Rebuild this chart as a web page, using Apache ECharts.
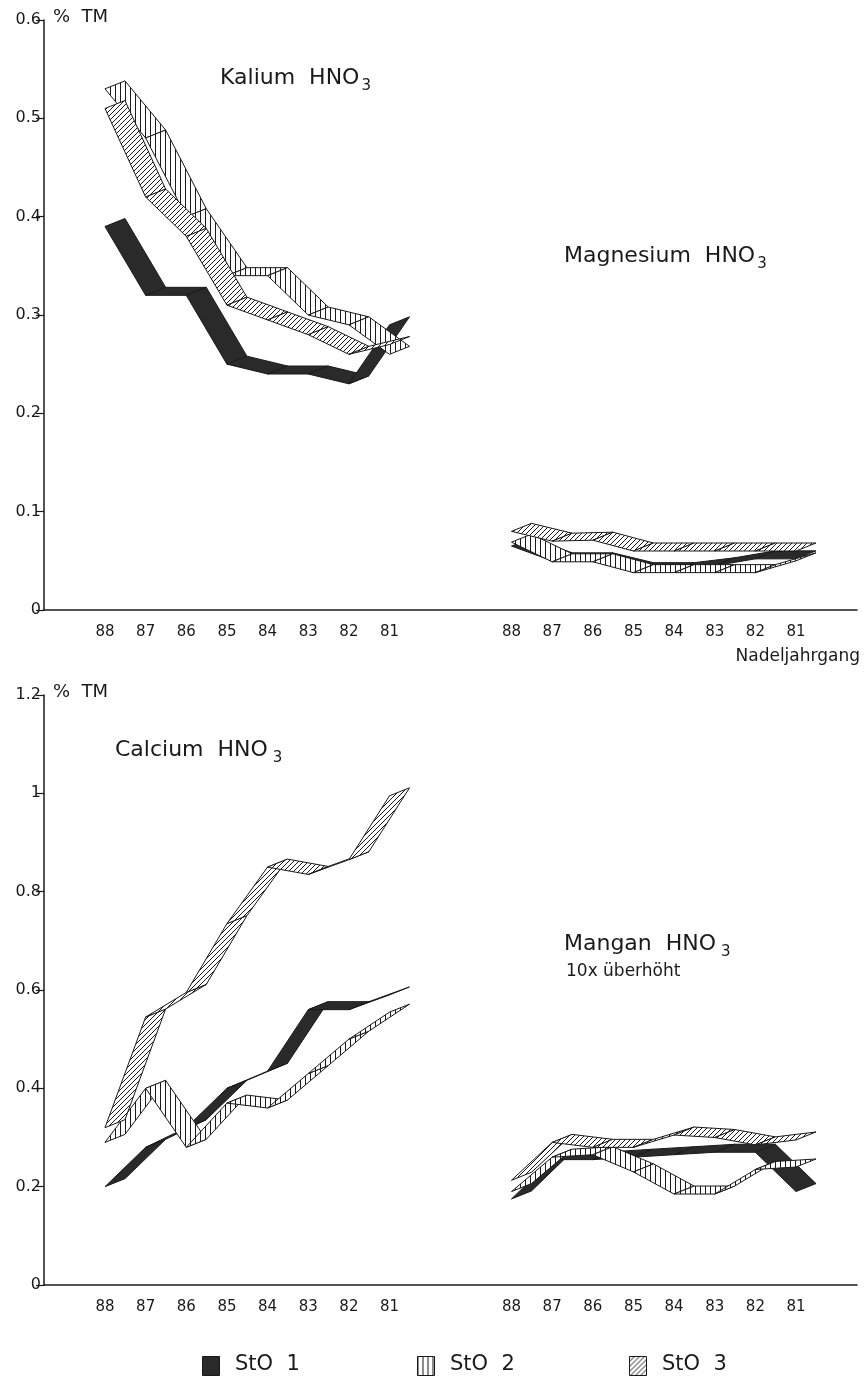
<!DOCTYPE html>
<html><head><meta charset="utf-8">
<script src="https://cdn.jsdelivr.net/npm/echarts@6/dist/echarts.min.js"></script>
<style>html,body{margin:0;padding:0;background:#fff}#c{width:868px;height:1382px}</style>
</head><body><div id="c"></div>
<script>
// ---------------- data ----------------
const years = ['88','87','86','85','84','83','82','81'];
const xCategories = ['', ...years, '', '', ...years, ''];
const leftStart = 1, rightStart = 11;

const topTicks = [0, 0.1, 0.2, 0.3, 0.4, 0.5, 0.6];
const bottomTicks = [0, 0.2, 0.4, 0.6, 0.8, 1, 1.2];

// Kalium HNO3 (% TM), Nadeljahrgang 88..81
const kaliumSto1 = [0.39, 0.32, 0.32, 0.25, 0.24, 0.24, 0.23, 0.29];
const kaliumSto2 = [0.53, 0.48, 0.40, 0.34, 0.34, 0.30, 0.29, 0.26];
const kaliumSto3 = [0.51, 0.42, 0.38, 0.31, 0.295, 0.28, 0.26, 0.27];
// Magnesium HNO3
const magnesiumSto1 = [0.065, 0.05, 0.05, 0.04, 0.04, 0.045, 0.052, 0.052];
const magnesiumSto2 = [0.069, 0.049, 0.049, 0.038, 0.038, 0.038, 0.038, 0.05];
const magnesiumSto3 = [0.08, 0.07, 0.071, 0.06, 0.06, 0.06, 0.06, 0.06];
// Calcium HNO3
const calciumSto1 = [0.20, 0.28, 0.32, 0.40, 0.435, 0.56, 0.56, 0.59];
const calciumSto2 = [0.29, 0.40, 0.28, 0.37, 0.36, 0.43, 0.50, 0.555];
const calciumSto3 = [0.32, 0.545, 0.595, 0.735, 0.85, 0.835, 0.865, 0.995];
// Mangan HNO3 (10x ueberhoeht)
const manganSto1 = [0.175, 0.255, 0.255, 0.26, 0.265, 0.27, 0.27, 0.19];
const manganSto2 = [0.19, 0.26, 0.265, 0.23, 0.185, 0.185, 0.235, 0.24];
const manganSto3 = [0.213, 0.29, 0.28, 0.28, 0.305, 0.30, 0.285, 0.295];

const stationNames = ['StO 1', 'StO 2', 'StO 3'];

// ---------------- styling ----------------
const FONT = '"DejaVu Sans", "Liberation Sans", sans-serif';
const INK = '#1a1a1a';
const DX = 20, DY = -8;   // pseudo-3D ribbon depth (pixels)

function makePattern(kind) {
  const c = document.createElement('canvas');
  const ctx = c.getContext('2d');
  c.width = 5; c.height = 5;
  ctx.fillStyle = '#fff'; ctx.fillRect(0, 0, 5, 5);
  ctx.fillStyle = INK;
  if (kind === 'v') {
    ctx.fillRect(0, 0, 1, 5);
  } else {
    for (let k = 0; k < 5; k++) ctx.fillRect(4 - k, k, 1, 1);
  }
  return { image: c, repeat: 'repeat' };
}
const fills = ['#2a2a2a', makePattern('v'), makePattern('d')];

function ribbon(name, gridIdx, start, vals, st) {
  return {
    type: 'custom', name: name, xAxisIndex: gridIdx, yAxisIndex: gridIdx,
    coordinateSystem: 'cartesian2d',
    data: vals.map((v, i) => [start + i, v]),
    z: 2 + st,
    silent: true,
    renderItem: function (params, api) {
      const i = params.dataIndex;
      if (i >= vals.length - 1) return null;
      const p0 = api.coord([start + i, vals[i]]);
      const p1 = api.coord([start + i + 1, vals[i + 1]]);
      return {
        type: 'polygon',
        shape: { points: [p0, p1, [p1[0] + DX, p1[1] + DY], [p0[0] + DX, p0[1] + DY]] },
        style: { fill: fills[st], stroke: INK, lineWidth: 1 }
      };
    }
  };
}

const series = [
  ribbon('K1', 0, leftStart, kaliumSto1, 0),
  ribbon('K2', 0, leftStart, kaliumSto2, 1),
  ribbon('K3', 0, leftStart, kaliumSto3, 2),
  ribbon('M1', 0, rightStart, magnesiumSto1, 0),
  ribbon('M2', 0, rightStart, magnesiumSto2, 1),
  ribbon('M3', 0, rightStart, magnesiumSto3, 2),
  ribbon('C1', 1, leftStart, calciumSto1, 0),
  ribbon('C2', 1, leftStart, calciumSto2, 1),
  ribbon('C3', 1, leftStart, calciumSto3, 2),
  ribbon('Mn1', 1, rightStart, manganSto1, 0),
  ribbon('Mn2', 1, rightStart, manganSto2, 1),
  ribbon('Mn3', 1, rightStart, manganSto3, 2)
];

function xAxis(gridIdx) {
  return {
    type: 'category', gridIndex: gridIdx, data: xCategories, boundaryGap: true,
    axisLine: { lineStyle: { color: INK, width: 1.5 } },
    axisTick: { show: false },
    axisLabel: { interval: 0, color: INK, fontFamily: FONT, fontSize: 15, margin: 15 },
    splitLine: { show: false }
  };
}
function yAxis(gridIdx, ticks) {
  return {
    type: 'value', gridIndex: gridIdx, min: ticks[0], max: ticks[ticks.length - 1],
    interval: ticks[1] - ticks[0],
    axisLine: { show: true, lineStyle: { color: INK, width: 1.5 } },
    axisTick: { show: true, length: 8, lineStyle: { color: INK, width: 1.2 } },
    axisLabel: { color: INK, fontFamily: FONT, fontSize: 16, margin: 3,
      formatter: v => String(Math.round(v * 10) / 10) },
    splitLine: { show: false }
  };
}

const mctx = document.createElement('canvas').getContext('2d');
function tw(t, size) { mctx.font = size + 'px ' + FONT; return mctx.measureText(t).width; }

function chemTitle(main, x, y, size, subGap) {
  const w = tw(main, size);
  return [
    { type: 'text', left: x, top: y - size * 0.6, style: { text: main, fill: INK, font: size + 'px ' + FONT } },
    { type: 'text', left: x + w + subGap, top: y - size * 0.6 + size * 0.55, style: { text: '3', fill: INK, font: Math.round(size * 0.7) + 'px ' + FONT } }
  ];
}

const graphics = [].concat(
  [{ type: 'text', left: 53, top: 8, style: { text: '%  TM', fill: INK, font: '18px ' + FONT } },
   { type: 'text', left: 53, top: 683, style: { text: '%  TM', fill: INK, font: '18px ' + FONT } }],
  chemTitle('Kalium  HNO', 220, 80, 22, 2),
  chemTitle('Magnesium  HNO', 564, 258, 22, 2),
  chemTitle('Calcium  HNO', 115, 752, 22, 5),
  chemTitle('Mangan  HNO', 564, 946, 22, 5),
  [{ type: 'text', left: 566, top: 963, style: { text: '10x überhöht', fill: INK, font: '17px ' + FONT } },
   { type: 'text', right: 8, top: 648, style: { text: 'Nadeljahrgang', fill: INK, font: '17px ' + FONT } }]
);

const legendX = [202, 417, 629];
stationNames.forEach((n, k) => {
  graphics.push({ type: 'rect', left: legendX[k], top: 1356, shape: { width: 17, height: 19 },
    style: { fill: fills[k], stroke: INK, lineWidth: 1 } });
  graphics.push({ type: 'text', left: legendX[k] + 33, top: 1354, style: { text: n.replace(' ', '  '), fill: INK, font: '21px ' + FONT } });
});

const chart = echarts.init(document.getElementById('c'), null, { renderer: 'canvas' });
chart.setOption({
  animation: false,
  backgroundColor: '#fff',
  grid: [
    { left: 44, top: 20, width: 813, height: 590 },
    { left: 44, top: 695, width: 813, height: 590 }
  ],
  xAxis: [xAxis(0), xAxis(1)],
  yAxis: [yAxis(0, topTicks), yAxis(1, bottomTicks)],
  series: series,
  graphic: graphics
});
</script>
</body></html>
